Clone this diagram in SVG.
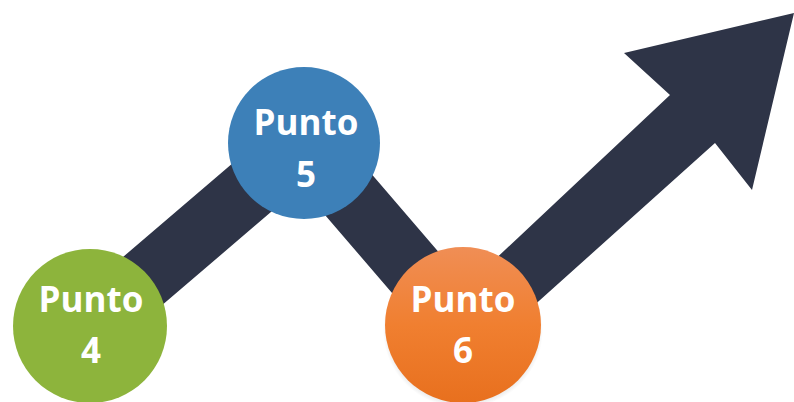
<svg xmlns="http://www.w3.org/2000/svg" width="794" height="402" viewBox="0 0 794 402">
<defs>
<linearGradient id="gOrange" x1="0" y1="0" x2="0" y2="1">
<stop offset="0" stop-color="#f08e55"/>
<stop offset="0.5" stop-color="#f07f30"/>
<stop offset="1" stop-color="#e8701e"/>
</linearGradient>
<radialGradient id="gShadow" cx="0.5" cy="0.5" r="0.5">
<stop offset="0.8" stop-color="#9a9a9a" stop-opacity="0.6"/>
<stop offset="1" stop-color="#9a9a9a" stop-opacity="0"/>
</radialGradient>
</defs>
<style>
.lbl{font-family:"Open Sans","Liberation Sans",sans-serif;font-weight:bold;font-size:35px;fill:#ffffff;text-anchor:middle}
.arrow{fill:#2e3447}
</style>
<rect width="794" height="402" fill="#ffffff"/>
<g id="connectors">
<polyline points="90,326 304,143 463,328" fill="none" stroke="#2e3447" stroke-width="62" stroke-linejoin="miter"/>
<polygon class="arrow" points="440,311 670,95 624,53 794,13 752,190 715,143 490,345"/>
</g>
<g id="punto4">
<circle cx="90" cy="326" r="77" fill="#8db43c"/>
<text class="lbl" x="91" y="312">Punto</text>
<text class="lbl" x="91" y="363">4</text>
</g>
<g id="punto5">
<circle cx="304" cy="143" r="76" fill="#3d80b8"/>
<text class="lbl" x="306" y="135">Punto</text>
<text class="lbl" x="306" y="187">5</text>
</g>
<g id="punto6">
<ellipse cx="463" cy="330" rx="80" ry="78" fill="url(#gShadow)"/>
<circle cx="463" cy="325" r="78" fill="url(#gOrange)"/>
<text class="lbl" x="463" y="312">Punto</text>
<text class="lbl" x="463" y="363">6</text>
</g>
</svg>
